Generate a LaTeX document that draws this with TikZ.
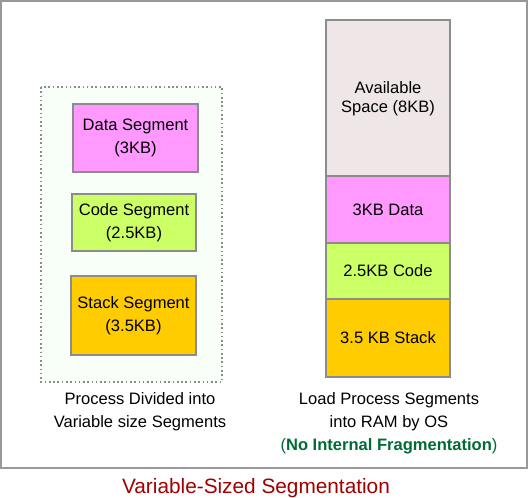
\documentclass[tikz,border=0pt]{standalone}
\usepackage{fontspec}
\setmainfont{Liberation Sans}
\usetikzlibrary{positioning}

\definecolor{datapink}{HTML}{FF99FF}
\definecolor{codelime}{HTML}{CCFF66}
\definecolor{stackgold}{HTML}{FFCC00}
\definecolor{freespace}{HTML}{EFE7E7}
\definecolor{procbg}{HTML}{F8FFF8}
\definecolor{fraggreen}{HTML}{006B35}
\definecolor{titlered}{HTML}{A00000}

\begin{document}
\begin{tikzpicture}[x=0.75pt, y=-0.75pt,
    font=\fontsize{12.4}{17.25}\selectfont,
    segbox/.style={draw=black!45, line width=0.8pt},
    label/.style={align=center, inner sep=0pt}]
    \useasboundingbox (0, 0) rectangle (529, 498);
    % Outer frame
    \draw[black!40, line width=1.4pt] (1, 1) rectangle (527, 468);
    % Process divided into segments (left)
    \filldraw[procbg, draw=black!45, dotted, line width=1.2pt]
    (41, 87) rectangle (222, 382);
    \filldraw[segbox, fill=datapink]  (73, 104) rectangle (198, 172);
    \filldraw[segbox, fill=codelime]  (72, 194) rectangle (196, 251);
    \filldraw[segbox, fill=stackgold] (71, 276) rectangle (196, 355);
    \node[label] (pdata)  at (135.5, 138)   {Data Segment\\(3KB)};
    \node[label] (pcode)  at (134, 222.5)   {Code Segment\\(2.5KB)};
    \node[label] (pstack) at (133.5, 315.5) {Stack Segment\\(3.5KB)};
    \node[label] (pcap)   at (140, 411.5)
    {Process Divided into\\Variable size Segments};
    % RAM column (right), top to bottom
    \filldraw[segbox, fill=freespace] (326, 20)  rectangle (450, 176);
    \filldraw[segbox, fill=datapink]  (326, 176) rectangle (450, 243);
    \filldraw[segbox, fill=codelime]  (326, 243) rectangle (450, 299);
    \filldraw[segbox, fill=stackgold] (326, 299) rectangle (450, 377);
    \node[label, font=\fontsize{12.4}{14.25}\selectfont] (rfree)
    at (388, 99) {Available\\Space (8KB)};
    \node[label] (rdata)  at (388, 209.5) {3KB Data};
    \node[label] (rcode)  at (388, 271)   {2.5KB Code};
    \node[label] (rstack) at (388, 338)   {3.5 KB Stack};
    \node[label] (rcap)   at (389, 423.5)
    {Load Process Segments\\into RAM by OS\\
    {\color{fraggreen}(\textbf{No Internal Fragmentation})}};
    % Title below the frame
    \node[label, titlered, font=\fontsize{15.6}{18}\selectfont] (title)
    at (256, 488.5) {Variable-Sized Segmentation};
\end{tikzpicture}
\end{document}
